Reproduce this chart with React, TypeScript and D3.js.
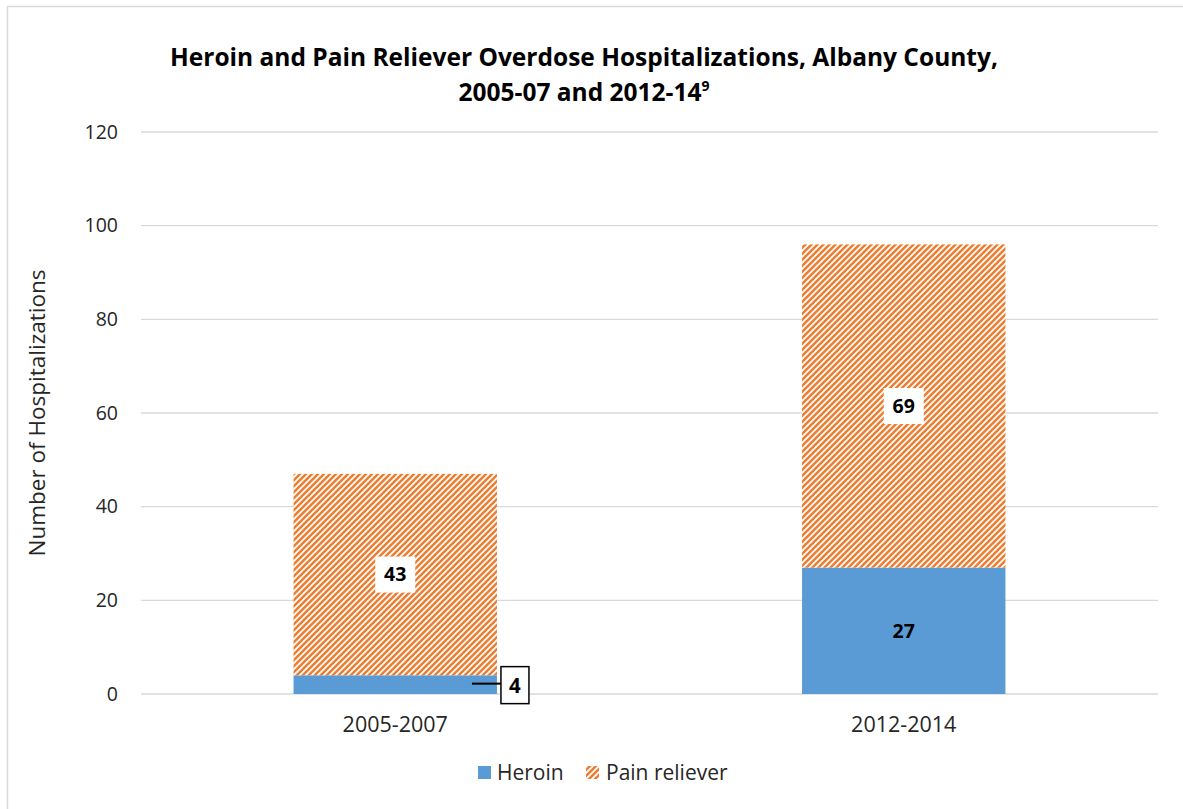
import * as d3 from "d3";

const categories = ["2005-2007", "2012-2014"];
const heroin = [4, 27];
const painReliever = [43, 69];
const seriesNames = ["Heroin", "Pain reliever"];
const yTicks = [0, 20, 40, 60, 80, 100, 120];

const W = 1183;
const H = 809;
const font = "'Open Sans', 'DejaVu Sans', sans-serif";
const blue = "#5B9BD5";
const orange = "#ED7D31";
const textCol = "#262626";

export default function App() {
  const x = d3.scaleBand().domain(categories).range([141, 1158]).paddingInner(0.6).paddingOuter(0.3);
  const y = d3.scaleLinear().domain([0, 120]).range([694, 132]);

  const rows = categories.map((c, i) => ({ cat: c, heroin: heroin[i], pain: painReliever[i] }));
  const stacked = d3.stack<any>().keys(["heroin", "pain"])(rows);

  return (
    <svg width={W} height={H} style={{ position: "absolute", left: 0, top: 0 }}>
      <defs>
        <pattern id="hatch" patternUnits="userSpaceOnUse" width="6" height="6">
          <rect width="6" height="6" fill="#fff" />
          <path d="M-1,7 L7,-1 M-4,4 L4,-4 M2,10 L10,2" stroke={orange} strokeWidth="2.5" />
        </pattern>
      </defs>
      <rect x={0} y={0} width={W} height={H} fill="#fff" />
      <rect x={7.5} y={6.5} width={W + 10} height={H + 10} fill="none" stroke="#d9d9d9" strokeWidth={1.5} />

      <text x={584} y={66} textAnchor="middle" fontFamily={font} fontWeight="bold" fontSize={24.5} fill="#000">
        Heroin and Pain Reliever Overdose Hospitalizations, Albany County,
      </text>
      <text x={584} y={101} textAnchor="middle" fontFamily={font} fontWeight="bold" fontSize={24.5} fill="#000">
        2005-07 and 2012-14<tspan fontSize={14} dy={-10}>9</tspan>
      </text>

      {yTicks.map((t) => (
        <g key={t}>
          <line x1={141} x2={1158} y1={y(t)} y2={y(t)} stroke="#d9d9d9" strokeWidth={1.3} />
          <text x={118} y={y(t)} dy="0.35em" textAnchor="end" fontFamily={font} fontSize={19.5} fill={textCol}>
            {t}
          </text>
        </g>
      ))}

      <text
        transform={`translate(45,${y(60)}) rotate(-90)`}
        textAnchor="middle"
        fontFamily={font}
        fontSize={22.5}
        fill={textCol}
      >
        Number of Hospitalizations
      </text>

      {stacked.map((s, si) =>
        s.map((d, i) => (
          <rect
            key={`${si}-${i}`}
            x={x(categories[i])}
            width={x.bandwidth()}
            y={y(d[1])}
            height={y(d[0]) - y(d[1])}
            fill={si === 0 ? blue : "url(#hatch)"}
          />
        ))
      )}

      {categories.map((c) => (
        <text key={c} x={(x(c) as number) + x.bandwidth() / 2} y={724} dy="0.35em" textAnchor="middle" fontFamily={font} fontSize={21.5} fill={textCol}>
          {c}
        </text>
      ))}

      {/* pain reliever labels in white boxes */}
      {rows.map((r, i) => {
        const cx = (x(r.cat) as number) + x.bandwidth() / 2;
        const cy = y(r.heroin + r.pain / 2);
        return (
          <g key={`p${i}`}>
            <rect x={cx - 20} y={cy - 18} width={40} height={36} fill="#fff" />
            <text x={cx} y={cy} dy="0.35em" textAnchor="middle" fontFamily={font} fontWeight="bold" fontSize={19.5} fill="#000">
              {r.pain}
            </text>
          </g>
        );
      })}

      {/* heroin labels */}
      {rows.map((r, i) => {
        const cx = (x(r.cat) as number) + x.bandwidth() / 2;
        const cy = y(r.heroin / 2);
        if (r.heroin < 10) {
          const right = (x(r.cat) as number) + x.bandwidth();
          const bx = right + 4;
          const ly = y(r.heroin / 2) - 1;
          return (
            <g key={`h${i}`}>
              <line x1={right - 25} x2={bx} y1={ly} y2={ly} stroke="#000" strokeWidth={2} />
              <rect x={bx} y={ly - 17} width={28} height={37} fill="#fff" stroke="#000" strokeWidth={1.5} />
              <text x={bx + 14} y={ly + 2} dy="0.35em" textAnchor="middle" fontFamily={font} fontWeight="bold" fontSize={20.5} fill="#000">
                {r.heroin}
              </text>
            </g>
          );
        }
        return (
          <text key={`h${i}`} x={cx} y={cy} dy="0.35em" textAnchor="middle" fontFamily={font} fontWeight="bold" fontSize={19.5} fill="#000">
            {r.heroin}
          </text>
        );
      })}

      {/* legend */}
      <rect x={478} y={766} width={13} height={13} fill={blue} />
      <text x={497} y={773} dy="0.35em" fontFamily={font} fontSize={21} fill={textCol}>{seriesNames[0]}</text>
      <rect x={586} y={766} width={13} height={13} fill="url(#hatch)" />
      <text x={606} y={773} dy="0.35em" fontFamily={font} fontSize={21} fill={textCol}>{seriesNames[1]}</text>
    </svg>
  );
}
